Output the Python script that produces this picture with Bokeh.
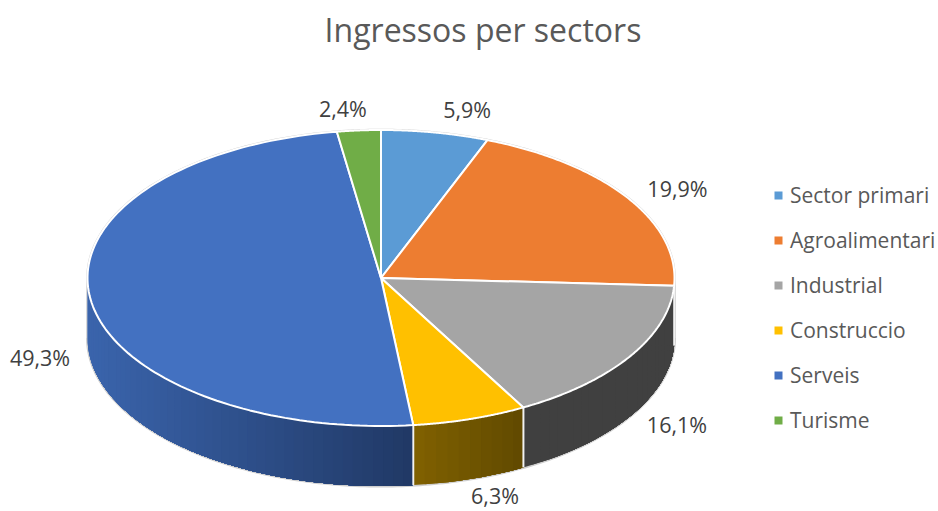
import numpy as np
from bokeh.plotting import figure
from bokeh.embed import file_html
from bokeh.resources import INLINE
from bokeh.core.properties import value

title = "Ingressos per sectors"
categories = ["Sector primari", "Agroalimentari", "Industrial", "Construccio", "Serveis", "Turisme"]
shares = [5.9, 19.9, 16.1, 6.3, 49.3, 2.4]
share_labels = ["5,9%", "19,9%", "16,1%", "6,3%", "49,3%", "2,4%"]
colors = ["#5B9BD5", "#ED7D31", "#A5A5A5", "#FFC000", "#4371C1", "#70AD47"]
side_left = [(55, 94, 128), (142, 75, 29), (64, 64, 64), (127, 96, 0), (58, 100, 172), (67, 104, 43)]
side_right = [(55, 94, 128), (142, 75, 29), (64, 64, 64), (95, 72, 0), (32, 56, 100), (67, 104, 43)]

# layout (screen-like units)
CX, CY, RX, RY, DEPTH = 380.5, 277.5, 293.5, 148.0, 60.0
label_offsets = [(32, -23), (50, -9), (47, 68), (25, 76.5), (-50, 60), (-16, -22)]
LEG_SQ_X, LEG_TX_X, LEG_Y0, LEG_DY = 778, 789.5, 194, 45

p = figure(width=938, height=511, x_range=(0, 938), y_range=(511, 0),
           output_backend="svg", toolbar_location=None, min_border=0,
           x_axis_location=None, y_axis_location=None)
p.grid.visible = False
p.outline_line_color = None
p.background_fill_color = "white"
p.border_fill_color = "white"


def rim(theta):
    return CX + RX * np.sin(theta), CY - RY * np.cos(theta)


total = sum(shares)
edges = np.concatenate([[0], np.cumsum(shares)]) / total * 2 * np.pi

# soft outline of the silhouette
th = np.linspace(np.pi / 2, 3 * np.pi / 2, 200)
x, y = rim(th)
p.line(x, y + DEPTH, line_color="#CFCFCF", line_width=3)
p.line([CX + RX + 0.5] * 2, [CY, CY + DEPTH], line_color="#D9D9D9", line_width=2)
p.line([CX - RX - 0.5] * 2, [CY, CY + DEPTH], line_color="#D9D9D9", line_width=2)
th = np.linspace(-np.pi / 2, np.pi / 2, 200)
x, y = rim(th)
p.line(x, y, line_color="#CFCFCF", line_width=2.5)

# side wall: overlapping bands painted one over another for the shading
for i in range(len(shares)):
    a0, a1 = max(edges[i], np.pi / 2), min(edges[i + 1], 3 * np.pi / 2)
    if a1 <= a0:
        continue
    ts = np.linspace(a1, a0, max(2, int((a1 - a0) * 30)))  # x grows along ts
    xs, ys = rim(ts)
    xmin, xmax = xs.min(), xs.max()
    qx, qy, qc = [], [], []
    for k in range(len(ts) - 1):
        t = (xs[k] - xmin) / max(xmax - xmin, 1e-6)
        c = tuple(int(round(side_left[i][j] + (side_right[i][j] - side_left[i][j]) * t)) for j in range(3))
        qx.append(np.r_[xs[k:], xs[k:][::-1]])
        qy.append(np.r_[ys[k:], ys[k:][::-1] + DEPTH])
        qc.append("#%02x%02x%02x" % c)
    p.patches(qx, qy, fill_color=qc, line_color=None)
    for a in (a0, a1):
        if np.pi / 2 < a < 3 * np.pi / 2:
            ex, ey = rim(a)
            p.line([ex, ex], [ey, ey + DEPTH], line_color="#F2F2F2", line_width=1.8)

# top faces
for i in range(len(shares)):
    ts = np.linspace(edges[i], edges[i + 1], 120)
    xs, ys = rim(ts)
    p.patch(np.r_[CX, xs], np.r_[CY, ys], fill_color=colors[i], line_color="white", line_width=2)

# data labels
mids = 0.5 * (edges[:-1] + edges[1:])
lx, ly = rim(mids)
lx = lx + np.array([o[0] for o in label_offsets])
ly = ly + np.array([o[1] for o in label_offsets])
p.text(lx, ly, text=share_labels, text_align="center", text_baseline="middle",
       text_font=value("Open Sans"), text_font_size="21.5px", text_color="#404040")

# title
p.text([482.5], [29], text=[title], text_align="center", text_baseline="middle",
       text_font=value("Open Sans"), text_font_size="32px", text_color="#595959")

# legend
ly2 = [LEG_Y0 + LEG_DY * i for i in range(len(categories))]
p.rect([LEG_SQ_X] * len(categories), [v + 1 for v in ly2], width=8, height=8, fill_color=colors, line_color=None)
p.text([LEG_TX_X] * len(categories), ly2, text=categories, text_align="left", text_baseline="middle",
       text_font=value("Open Sans"), text_font_size="21px", text_color="#595959")

open("out.html", "w").write(file_html(p, INLINE))
